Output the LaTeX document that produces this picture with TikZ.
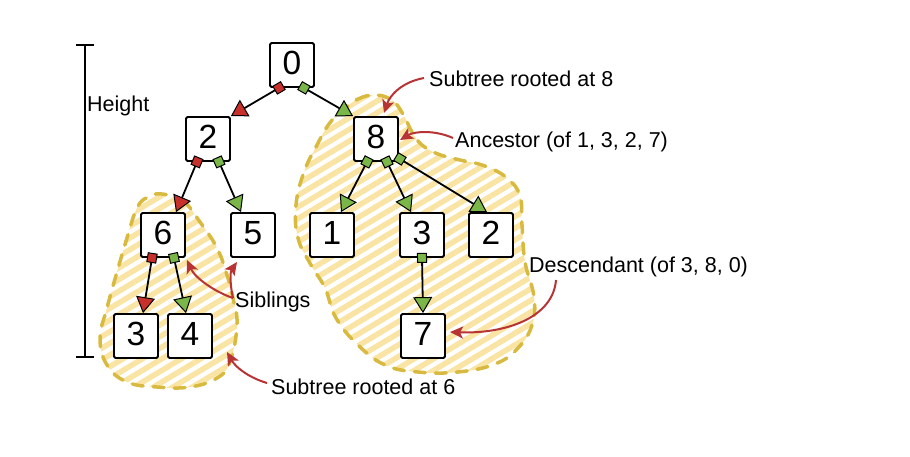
\documentclass[tikz,border=0pt]{standalone}
\usepackage{fontspec}
\setmainfont{Liberation Sans}
\usetikzlibrary{arrows.meta,patterns.meta,calc}
\definecolor{myred}{HTML}{C8302C}
\definecolor{mygreen}{HTML}{7AB648}
\definecolor{annred}{HTML}{B83434}
\definecolor{hatchy}{HTML}{F9E4A4}
\definecolor{blobline}{HTML}{D8BA40}
\tikzset{
  box/.style={draw, line width=1.8pt, fill=white, rounded corners=1.5pt,
    minimum width=44pt, minimum height=44pt, inner sep=0pt,
    font=\fontsize{33.5}{33.5}\selectfont, text height=24pt, text depth=6pt},
  lbl/.style={anchor=base west, inner sep=0pt, font=\fontsize{21.5}{21.5}\selectfont},
  edgeR/.style={line width=1.8pt, shorten <=-5pt,
    {Square[length=10pt,width=10pt,fill=myred,line width=1pt]}-{Triangle[length=16pt,width=19pt,fill=myred,line width=1pt]}},
  edgeG/.style={line width=1.8pt, shorten <=-5pt,
    {Square[length=10pt,width=10pt,fill=mygreen,line width=1pt]}-{Triangle[length=16pt,width=19pt,fill=mygreen,line width=1pt]}},
  note/.style={draw=annred, line width=2pt, -{Stealth[length=13pt,width=12pt,inset=3pt]}},
  blob/.style={draw=blobline, line width=3.5pt, dash pattern=on 11pt off 10pt, line cap=round,
    pattern={Lines[angle=31,distance=10pt,line width=5.5pt]}, pattern color=hatchy},
  bracket/.style={line width=2pt}
}
\begin{document}
\begin{tikzpicture}[x=1pt,y=-1pt]
\useasboundingbox (0,0) rectangle (910,456);
% blobs
\path[blob] plot[smooth cycle, tension=0.7] coordinates {
 (162,194) (183,201) (200,222) (217,248) (227,275) (233,298) (237,325) (230,362)
 (217,378) (190,387) (157,387) (127,382) (107,365) (100,338) (107,308) (117,272)
 (127,238) (137,208) (148,197)};
\path[blob] plot[smooth cycle, tension=0.7] coordinates {
 (343,110) (358,99) (376,95) (393,101) (404,116) (412,132) (422,145) (438,154) (460,160)
 (485,166) (507,178) (520,196) (522,225) (525,262) (534,297) (532,325) (518,348)
 (495,364) (458,372) (418,372) (385,365) (358,345) (336,318) (325,288) (311,265)
 (298,238) (296,205) (304,172) (317,145) (329,124)};
% height bracket
\coordinate (ht) at (85,45);
\coordinate (hb) at (85,357);
\draw[bracket] (ht) -- (hb);
\draw[bracket] ($(ht)+(-9,0)$) -- ($(ht)+(9,0)$);
\draw[bracket] ($(hb)+(-9,0)$) -- ($(hb)+(9,0)$);
\node[lbl] (height) at (87,111) {Height};
% nodes
\node[box] (n0) at (292,65) {0};
\node[box] (n2) at (208,139) {2};
\node[box] (n8) at (376,139) {8};
\node[box] (n6) at (163,235) {6};
\node[box] (n5) at (253,235) {5};
\node[box] (n1) at (332,235) {1};
\node[box] (n3r) at (422,235) {3};
\node[box] (n2r) at (491,235) {2};
\node[box] (n3l) at (136,336) {3};
\node[box] (n4) at (190,336) {4};
\node[box] (n7) at (423,336) {7};
% edges
\draw[edgeR] ($(n0.south)+(-13,0)$) -- (n2.north east);
\draw[edgeG] ($(n0.south)+(12,0)$) -- (n8.north west);
\draw[edgeR] ($(n2.south)+(-11,0)$) -- ($(n6.north)+(13,0)$);
\draw[edgeG] ($(n2.south)+(11,0)$) -- ($(n5.north)+(-12,0)$);
\draw[edgeR] ($(n6.south)+(-11,0)$) -- ($(n3l.north)+(7,0)$);
\draw[edgeG] ($(n6.south)+(11,0)$) -- ($(n4.north)+(-4,0)$);
\draw[edgeG] ($(n8.south)+(-9,0)$) -- ($(n1.north)+(9,0)$);
\draw[edgeG] ($(n8.south)+(11,0)$) -- ($(n3r.north)+(-11,0)$);
\draw[edgeG] ($(n8.south east)+(1,-3)$) -- ($(n2r.north)+(-4,0)$);
\draw[edgeG] (n3r.south) -- (n7.north);
% labels
\node[lbl] (l8) at (429,86) {Subtree rooted at 8};
\node[lbl] (lanc) at (455,147) {Ancestor (of 1, 3, 2, 7)};
\node[lbl] (ldesc) at (529,272) {Descendant (of 3, 8, 0)};
\node[lbl] (lsib) at (235,307) {Siblings};
\node[lbl] (l6) at (271,394) {Subtree rooted at 6};
% annotation arrows
\coordinate (a8) at (384,113);
\coordinate (aanc) at (400,140);
\coordinate (adesc) at (450,332);
\coordinate (asib6) at (187,260);
\coordinate (asib5) at (237,262);
\coordinate (a6) at (227,352);
\draw[note] ($(l8.base west)+(-5,-8)$) .. controls (402,82) and (390,95) .. (a8);
\draw[note] ($(lanc.base west)+(-2,-9)$) .. controls (435,130) and (415,131) .. (aanc);
\draw[note] (556,280) .. controls (553,318) and (505,334) .. (adesc);
\draw[note] ($(lsib.base west)+(-2,-9)$) .. controls (215,292) and (195,278) .. (asib6);
\draw[note] ($(lsib.base west)+(-2,-9)$) .. controls (230,285) and (230,272) .. (asib5);
\draw[note] ($(l6.base west)+(-4,-11)$) .. controls (250,378) and (236,368) .. (a6);
\end{tikzpicture}
\end{document}
